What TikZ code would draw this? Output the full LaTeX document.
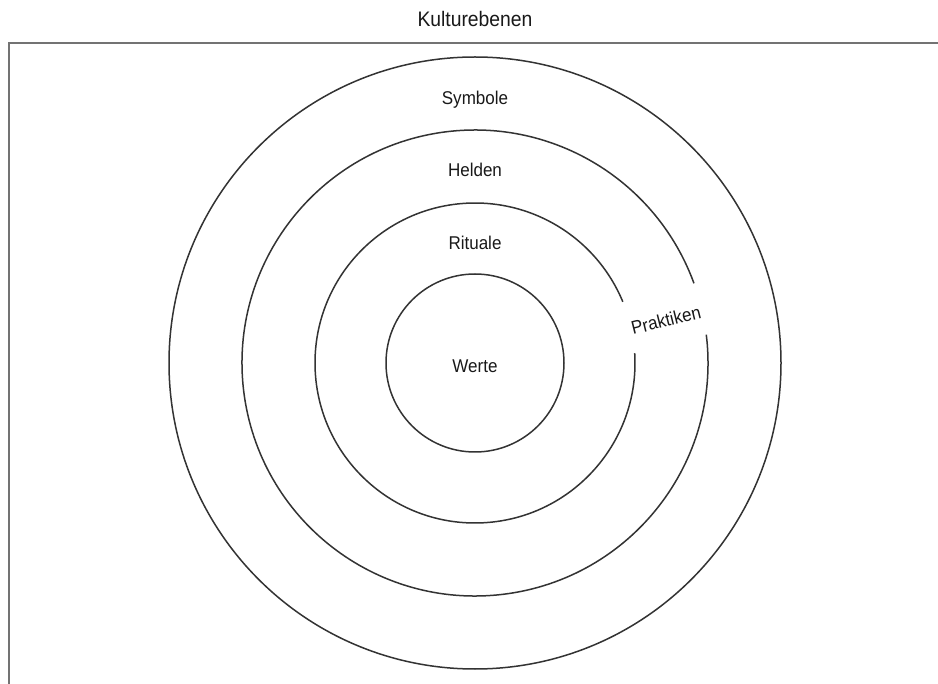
\documentclass[tikz,border=0pt]{standalone}
\usepackage{fontspec}
\setmainfont{Liberation Sans}[FakeStretch=0.92]
\begin{document}
\begin{tikzpicture}[x=1pt,y=-1pt,
  ring/.style={draw=black!80, line width=1.5pt},
  lbl/.style={font=\fontsize{18.5}{22}\selectfont, text=black!90, inner sep=0pt},
  ttl/.style={font=\fontsize{21}{24}\selectfont, text=black!90, inner sep=0pt},
  frame/.style={draw=black!55, line width=1.5pt}]
\useasboundingbox (0,0) rectangle (938,684);
\clip (0,0) rectangle (938,684);
\fill[white] (0,0) rectangle (938,684);
\coordinate (c) at (475,363);
% frame
\coordinate (fbl) at (9,700);
\coordinate (ftl) at (9,43);
\coordinate (ftr) at (950,43);
\draw[frame] (fbl) -- (ftl) -- (ftr);
% rings
\draw[ring] (c) circle[radius=306];
\draw[ring] ([shift={(-7:233)}]c) arc[start angle=-7, end angle=340, radius=233];
\draw[ring] ([shift={(-3.5:160)}]c) arc[start angle=-3.5, end angle=337.5, radius=160];
\draw[ring] (c) circle[radius=89];
% labels
\node[ttl] (title) at (475,19) {Kulturebenen};
\node[lbl] (sym) at (475,100) {Symbole};
\node[lbl] (hel) at (475,170) {Helden};
\node[lbl] (rit) at (475,243) {Rituale};
\node[lbl] (wer) at (475,366) {Werte};
\node[lbl, rotate=14] (pra) at (666,320) {Praktiken};
\end{tikzpicture}
\end{document}
